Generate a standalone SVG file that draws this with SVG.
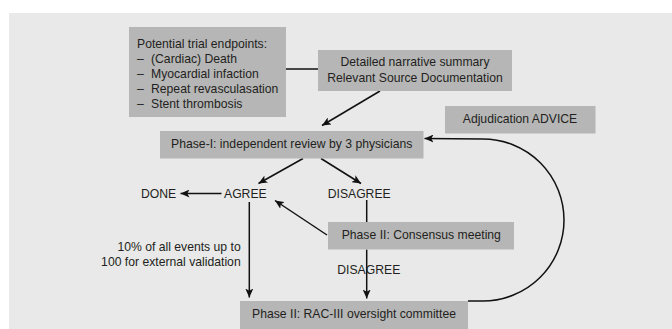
<svg xmlns="http://www.w3.org/2000/svg" width="672" height="329" viewBox="0 0 672 329">
<defs>
<style>
.box{fill:#b6b6b6}
text{font-family:"Liberation Sans",Arial,sans-serif;font-size:12.2px;fill:#231f20}
.c{text-anchor:middle}
.e{text-anchor:end}
.ln{fill:none;stroke:#111;stroke-width:1.5}
</style>
<marker id="ah" markerUnits="userSpaceOnUse" markerWidth="10" markerHeight="8" refX="9" refY="4" orient="auto">
<path d="M0,0 L9,4 L0,8 L2.2,4 z" fill="#111"/>
</marker>
</defs>
<rect x="0" y="0" width="672" height="329" fill="#ffffff"/>
<rect x="9" y="13" width="663" height="316" fill="#e9e9e9"/>

<g id="connectors">
<line class="ln" x1="286" y1="69" x2="318" y2="69"/>
<line class="ln" x1="380" y1="91" x2="322" y2="125.5" marker-end="url(#ah)"/>
<line class="ln" x1="303" y1="158.5" x2="258.5" y2="183.5" marker-end="url(#ah)"/>
<line class="ln" x1="321" y1="158.5" x2="361" y2="183.5" marker-end="url(#ah)"/>
<line class="ln" x1="221.5" y1="193.5" x2="180.5" y2="193.5" marker-end="url(#ah)"/>
<line class="ln" x1="327" y1="235" x2="275" y2="200.5" marker-end="url(#ah)"/>
<line class="ln" x1="249.3" y1="202" x2="249.3" y2="297.5" marker-end="url(#ah)"/>
<line class="ln" x1="366.7" y1="200" x2="366.7" y2="222"/>
<line class="ln" x1="366.7" y1="249.5" x2="366.7" y2="298.5" marker-end="url(#ah)"/>
<path class="ln" d="M468,301 L483,301 A81,81 0 0 0 483,139 L424.5,138.5" marker-end="url(#ah)"/>
</g>

<g id="endpoints">
<rect class="box" x="129" y="27" width="157" height="90"/>
<text x="137" y="47.5">Potential trial endpoints:</text>
<text x="137" y="62.5">–</text><text x="151" y="62.5">(Cardiac) Death</text>
<text x="137" y="77.5">–</text><text x="151" y="77.5">Myocardial infaction</text>
<text x="137" y="92.5">–</text><text x="151" y="92.5">Repeat revasculasation</text>
<text x="137" y="107.5">–</text><text x="151" y="107.5">Stent thrombosis</text>
</g>

<g id="narrative">
<rect class="box" x="318" y="50" width="194" height="41"/>
<text class="c" x="415" y="66">Detailed narrative summary</text>
<text class="c" x="415" y="81.5">Relevant Source Documentation</text>
</g>

<g id="phase1">
<rect class="box" x="160" y="131" width="263.5" height="27.5"/>
<text class="c" x="291.7" y="147.5">Phase-I: independent review by 3 physicians</text>
</g>

<g id="advice">
<rect class="box" x="445" y="106" width="150.5" height="27.5"/>
<text class="c" x="520" y="123.3">Adjudication ADVICE</text>
</g>

<g id="done"><text x="141" y="197.5">DONE</text></g>
<g id="agree"><text x="224" y="197.5">AGREE</text></g>
<g id="disagree1"><text x="327.7" y="197.5">DISAGREE</text></g>

<g id="consensus">
<rect class="box" x="328" y="222" width="186" height="27.5"/>
<text class="c" x="421.3" y="238.5">Phase II: Consensus meeting</text>
</g>

<g id="disagree2"><text x="337.3" y="274">DISAGREE</text></g>

<g id="validation">
<text class="e" x="240.7" y="251">10% of all events up to</text>
<text class="e" x="240.7" y="266">100 for external validation</text>
</g>

<g id="rac">
<rect class="box" x="240" y="301" width="228" height="28"/>
<text class="c" x="354" y="318.3">Phase II: RAC-III oversight committee</text>
</g>
</svg>
